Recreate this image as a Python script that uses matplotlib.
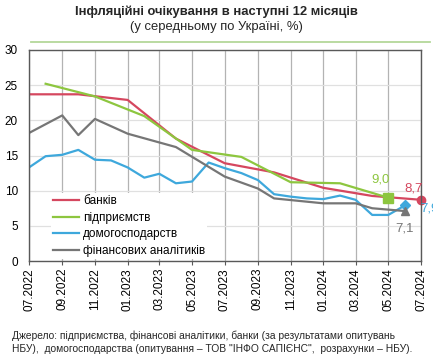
import pandas as pd
import matplotlib
matplotlib.use("Agg")
import matplotlib.pyplot as plt
import matplotlib.dates as mdates
from matplotlib.lines import Line2D

plt.rcParams['font.family'] = ['Liberation Sans', 'DejaVu Sans']

# banks (quarterly)
bank_months = ["2022-07", "2022-10", "2023-01", "2023-04", "2023-07", "2023-10",
               "2024-01", "2024-04", "2024-07"]
bank_vals = [23.7, 23.7, 22.9, 17.4, 13.9, 12.6, 10.4, 9.25, 8.7]

# enterprises (quarterly)
ent_months = ["2022-08", "2022-11", "2023-02", "2023-05", "2023-08", "2023-11",
              "2024-02", "2024-05"]
ent_vals = [25.2, 23.4, 20.6, 15.8, 14.8, 11.2, 11.05, 9.0]

# households (monthly)
hh_months = list(pd.date_range("2022-07-01", "2024-06-01", freq="MS").strftime("%Y-%m"))
hh_vals = [13.3, 14.9, 15.1, 15.8, 14.4, 14.3, 13.3, 11.85, 12.4, 11.05, 11.3, 14.0,
           13.2, 12.5, 11.5, 9.5, 9.15, 8.9, 8.8, 9.3, 8.7, 6.55, 6.55, 7.9]

# financial analysts
fin_months = ["2022-07", "2022-09", "2022-10", "2022-11", "2023-01", "2023-04",
              "2023-07", "2023-09", "2023-10", "2024-01", "2024-03", "2024-04", "2024-06"]
fin_vals = [18.2, 20.7, 17.9, 20.2, 18.1, 16.2, 12.0, 10.3, 8.9, 8.2, 8.2, 7.5, 7.1]

red = "#d5475f"
green = "#8dc63f"
blue = "#3ea8dc"
gray = "#767676"

def dts(m):
    return pd.to_datetime([s + "-01" for s in m])

W, H = 433, 362
fig = plt.figure(figsize=(W / 100, H / 100), dpi=100)
ax = fig.add_axes([29 / W, 1 - 261 / H, 392 / W, 211 / H])

ax.plot(dts(bank_months), bank_vals, color=red, lw=1.6, label="банків")
ax.plot(dts(ent_months), ent_vals, color=green, lw=1.6, label="підприємств")
ax.plot(dts(hh_months), hh_vals, color=blue, lw=1.6, label="домогосподарств")
ax.plot(dts(fin_months), fin_vals, color=gray, lw=1.6, label="фінансових аналітиків")

# end markers
ax.plot(dts(bank_months[-1:]), bank_vals[-1:], 'o', color=red, ms=6, clip_on=False)
ax.plot(dts(ent_months[-1:]), ent_vals[-1:], 's', color=green, ms=7)
ax.plot(dts(hh_months[-1:]), hh_vals[-1:], 'D', color=blue, ms=5)
ax.plot(dts(fin_months[-1:]), fin_vals[-1:], '^', color=gray, ms=6)

def lab(m, v, col, dx, dy, ha="center"):
    ax.annotate(f"{v:.1f}".replace(".", ","), (dts([m])[0], v), xytext=(dx, dy),
                textcoords="offset pixels", color=col, fontsize=9.5, ha=ha, va="center",
                annotation_clip=False)

lab(ent_months[-1], ent_vals[-1], green, -8, 18)
lab(bank_months[-1], bank_vals[-1], red, -7, 11)
lab(hh_months[-1], hh_vals[-1], blue, 15, -3, ha="left")
lab(fin_months[-1], fin_vals[-1], gray, 0, -17)

ax.set_xlim(pd.Timestamp("2022-07-01"), pd.Timestamp("2024-07-01"))
ax.set_ylim(0, 30)
ax.set_yticks(range(0, 31, 5))
ax.xaxis.set_major_locator(mdates.MonthLocator(bymonth=[1, 3, 5, 7, 9, 11]))
ax.xaxis.set_major_formatter(mdates.DateFormatter("%m.%Y"))
ax.tick_params(axis="x", rotation=90, labelsize=8.5, length=3, width=0.8, color="#595959", pad=2)
ax.tick_params(axis="y", labelsize=8.5, length=0, pad=8)

ax.xaxis.grid(True, color="#b3b3b3", lw=0.9)
ax.yaxis.grid(True, color="#e0e0e0", lw=0.9)
ax.set_axisbelow(True)
for s in ax.spines.values():
    s.set_color("#595959")
    s.set_linewidth(1.0)

leg = ax.legend(loc="upper left", bbox_to_anchor=(51 / W, 1 - 193 / H),
                bbox_transform=fig.transFigure, fontsize=8.5, frameon=True,
                facecolor="white", edgecolor="none", framealpha=1, fancybox=False,
                handlelength=2.2, handletextpad=0.3, labelspacing=0.38,
                borderpad=0.2, borderaxespad=0)

fig.text(0.5, 1 - 12 / H, "Інфляційні очікування в наступні 12 місяців",
         ha="center", va="center", fontsize=9.4, fontweight="bold", color="#262626")
fig.text(0.5, 1 - 27 / H, "(у середньому по Україні, %)",
         ha="center", va="center", fontsize=9.4, color="#262626")
fig.add_artist(Line2D([31 / W, 430 / W], [1 - 41.5 / H] * 2, color="#b4d89a", lw=1.3))

fig.text(12 / W, 1 - 342 / H,
         "Джерело: підприємства, фінансові аналітики, банки (за результатами опитувань\n"
         "НБУ),  домогосподарства (опитування \u2013 ТОВ \"ІНФО САПІЄНС\",  розрахунки \u2013 НБУ).",
         ha="left", va="center", fontsize=7.4, linespacing=1.4, color="#262626")

fig.savefig("out.png", dpi=100)
